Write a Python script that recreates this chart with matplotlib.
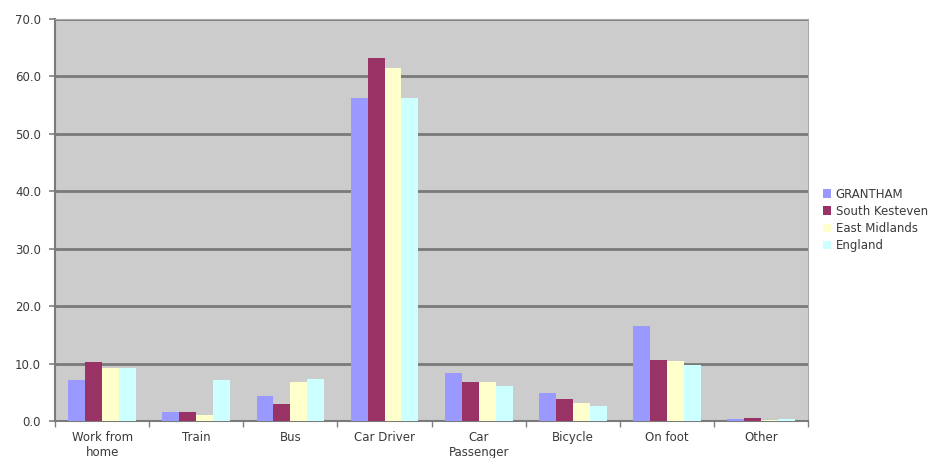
import matplotlib.pyplot as plt
import numpy as np

# travel to work mode shares (%)
modes = ["Work from\nhome", "Train", "Bus", "Car Driver", "Car\nPassenger",
         "Bicycle", "On foot", "Other"]
areas = ["GRANTHAM", "South Kesteven", "East Midlands", "England"]
grantham = [7.2, 1.6, 4.4, 56.2, 8.4, 4.8, 16.5, 0.3]
south_kesteven = [10.3, 1.6, 2.9, 63.2, 6.8, 3.9, 10.7, 0.5]
east_midlands = [9.2, 1.0, 6.8, 61.5, 6.8, 3.2, 10.4, 0.2]
england = [9.2, 7.2, 7.3, 56.2, 6.1, 2.6, 9.8, 0.3]
colours = ["#9999FF", "#993366", "#FFFFCC", "#CCFFFF"]

series = [grantham, south_kesteven, east_midlands, england]

fig = plt.figure(figsize=(9.42, 4.58), dpi=100)
ax = fig.add_axes([0.0584, 0.0808, 0.7996, 0.8777])
ax.set_facecolor("#CCCCCC")

x = np.arange(len(modes))
w = 0.18
for i, (vals, name, c) in enumerate(zip(series, areas, colours)):
    ax.bar(x + (i - 1.5) * w, vals, width=w, color=c, label=name, zorder=3)

ax.set_xlim(-0.5, len(modes) - 0.5)
ax.set_ylim(0, 70)
ax.set_yticks(np.arange(0, 71, 10))
ax.set_yticklabels([f"{v:.1f}" for v in range(0, 71, 10)])
ax.yaxis.grid(True, color="#7A7A7A", linewidth=2, zorder=1)

ax.set_xticks(x)
ax.set_xticklabels(modes, linespacing=1.2)
ax.set_xticks(np.arange(-0.5, len(modes), 1), minor=True)
ax.tick_params(axis="x", which="major", length=0, pad=7)
ax.tick_params(axis="x", which="minor", length=4, color="#808080", width=1)
ax.tick_params(axis="y", length=4, color="#808080", width=1.2, pad=6)
ax.tick_params(labelsize=8.5, labelcolor="#3A3A3A")

for s in ["top", "right"]:
    ax.spines[s].set_color("#A8A8A8")
    ax.spines[s].set_linewidth(0.8)
for s in ["left", "bottom"]:
    ax.spines[s].set_color("#7A7A7A")
    ax.spines[s].set_linewidth(1.5)

ax.legend(loc="center left", bbox_to_anchor=(1.008, 0.50), frameon=False,
          fontsize=8.5, handlelength=0.75, handleheight=0.75, handletextpad=0.35,
          labelspacing=0.35, labelcolor="#3A3A3A", borderaxespad=0.3)

fig.savefig("out.png", dpi=100)
